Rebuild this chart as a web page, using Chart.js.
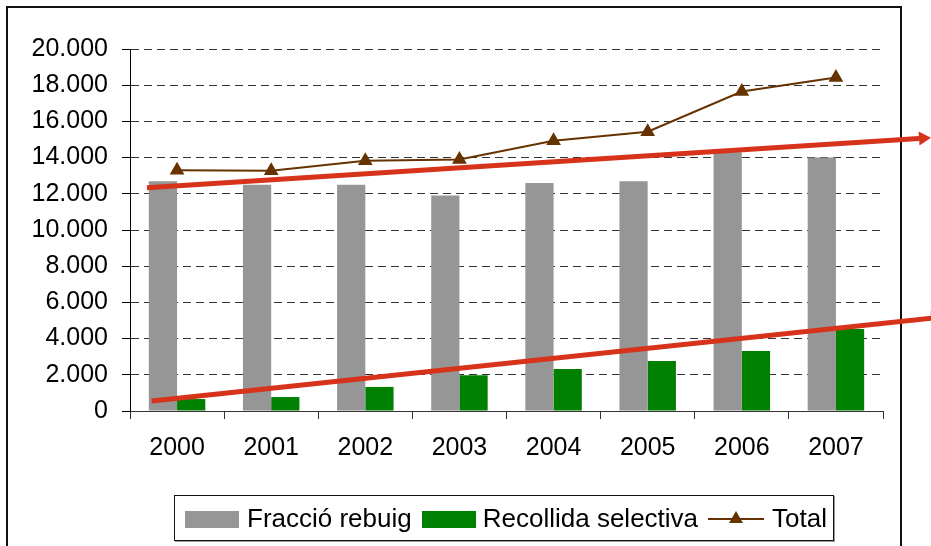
<!DOCTYPE html>
<html>
<head>
<meta charset="utf-8">
<script src="https://cdn.jsdelivr.net/npm/chart.js@4"></script>
<style>
    html, body { margin: 0; padding: 0; background: #fff; }
    #wrap { position: relative; width: 931px; height: 546px; overflow: hidden; font-family: 'Liberation Sans', Arial, sans-serif; }
    #frame { position: absolute; left: 6px; top: 6px; width: 892px; height: 600px; border: 2px solid #111; }
    #chart { position: absolute; left: 0; top: 0; }
    #legend { position: absolute; left: 174px; top: 495px; width: 658px; height: 44px; border: 1px solid #111;
              box-shadow: 1px 1px 0 #999; background: #fff; display: flex; align-items: center; font-size: 26px; color: #000; }
    .sw { width: 54px; height: 17px; flex: none; margin-top: 2px; }
    .txt { white-space: nowrap; }
</style>
</head>
<body>
<div id="wrap">
    <div id="frame"></div>
    <canvas id="chart" width="931" height="546"></canvas>
    <div id="legend">
        <span class="sw" style="margin-left:10px;background:#969696"></span>
        <span class="txt" style="margin-left:8px">Fracció rebuig</span>
        <span class="sw" style="margin-left:10px;background:#008000"></span>
        <span class="txt" style="margin-left:7px">Recollida selectiva</span>
        <svg width="56" height="20" style="margin-left:10px;flex:none">
            <line x1="0" y1="11" x2="56" y2="11" stroke="#663300" stroke-width="2"/>
            <polygon points="28,3 35,15 21,15" fill="#663300"/>
        </svg>
        <span class="txt" style="margin-left:8px">Total</span>
    </div>
</div>
<script>
    const years = ['2000', '2001', '2002', '2003', '2004', '2005', '2006', '2007'];
    const rebuig = [12700, 12500, 12500, 11900, 12600, 12700, 14300, 14000];
    const selectiva = [660, 770, 1330, 1970, 2320, 2760, 3310, 4530];
    const total = [13300, 13270, 13830, 13900, 14930, 15430, 17650, 18420];
    const yMax = 20000;
    const yStep = 2000;

    // red trend arrows: [category position, value] at start and at arrow tip
    const trendUpper = [[-0.32, 12340], [8.01, 15100]];
    const trendLower = [[-0.27, 550], [8.14, 5200]];

    const red = '#d7321a';

    function fmt(v) {
        return String(v).replace(/\B(?=(\d{3})+(?!\d))/g, '.');
    }

    const trendArrows = {
        id: 'trendArrows',
        afterDatasetsDraw(chart) {
            const ctx = chart.ctx;
            const xs = chart.scales.x;
            const ys = chart.scales.y;
            [trendUpper, trendLower].forEach(t => {
                const x1 = xs.getPixelForValue(t[0][0]);
                const y1 = ys.getPixelForValue(t[0][1]);
                const x2 = xs.getPixelForValue(t[1][0]);
                const y2 = ys.getPixelForValue(t[1][1]);
                const ang = Math.atan2(y2 - y1, x2 - x1);
                const head = 12, half = 7;
                const bx = x2 - head * Math.cos(ang);
                const by = y2 - head * Math.sin(ang);
                ctx.save();
                ctx.strokeStyle = red;
                ctx.fillStyle = red;
                ctx.lineWidth = 5;
                ctx.beginPath();
                ctx.moveTo(x1, y1);
                ctx.lineTo(bx, by);
                ctx.stroke();
                ctx.beginPath();
                ctx.moveTo(x2, y2);
                ctx.lineTo(bx + half * Math.sin(ang), by - half * Math.cos(ang));
                ctx.lineTo(bx - half * Math.sin(ang), by + half * Math.cos(ang));
                ctx.closePath();
                ctx.fill();
                ctx.restore();
            });
        }
    };

    const font = { family: "'Liberation Sans', Arial, sans-serif", size: 25 };

    new Chart(document.getElementById('chart').getContext('2d'), {
        type: 'bar',
        data: {
            labels: years,
            datasets: [{
                type: 'line',
                label: 'Total',
                data: total,
                borderColor: '#663300',
                backgroundColor: '#663300',
                borderWidth: 2,
                pointStyle: 'triangle',
                pointRadius: 8.5,
                pointBorderWidth: 0,
                tension: 0,
                order: 0
            }, {
                label: 'Fracció rebuig',
                data: rebuig,
                backgroundColor: '#969696',
                order: 1
            }, {
                label: 'Recollida selectiva',
                data: selectiva,
                backgroundColor: '#008000',
                order: 1
            }]
        },
        options: {
            responsive: false,
            devicePixelRatio: 1,
            animation: false,
            layout: { padding: { left: 0, right: 48, top: 49, bottom: 0 } },
            datasets: {
                bar: { barPercentage: 1, categoryPercentage: 0.6 }
            },
            plugins: {
                legend: { display: false },
                tooltip: { enabled: false }
            },
            scales: {
                x: {
                    afterFit: function (scale) { scale.height = 135; },
                    grid: { drawOnChartArea: false, offset: true, tickLength: 8, tickColor: '#333' },
                    border: { color: '#333', width: 1 },
                    ticks: { color: '#000', font: font, padding: 14, maxRotation: 0 }
                },
                y: {
                    min: 0,
                    max: yMax,
                    afterFit: function (scale) { scale.width = 130; },
                    grid: { color: '#333', tickLength: 8, tickColor: '#000' },
                    border: { color: '#000', width: 1, dash: [8, 5] },
                    ticks: {
                        stepSize: yStep,
                        color: '#000',
                        font: font,
                        padding: 14,
                        callback: function (v) { return fmt(v); }
                    }
                }
            }
        },
        plugins: [trendArrows]
    });
</script>
</body>
</html>
